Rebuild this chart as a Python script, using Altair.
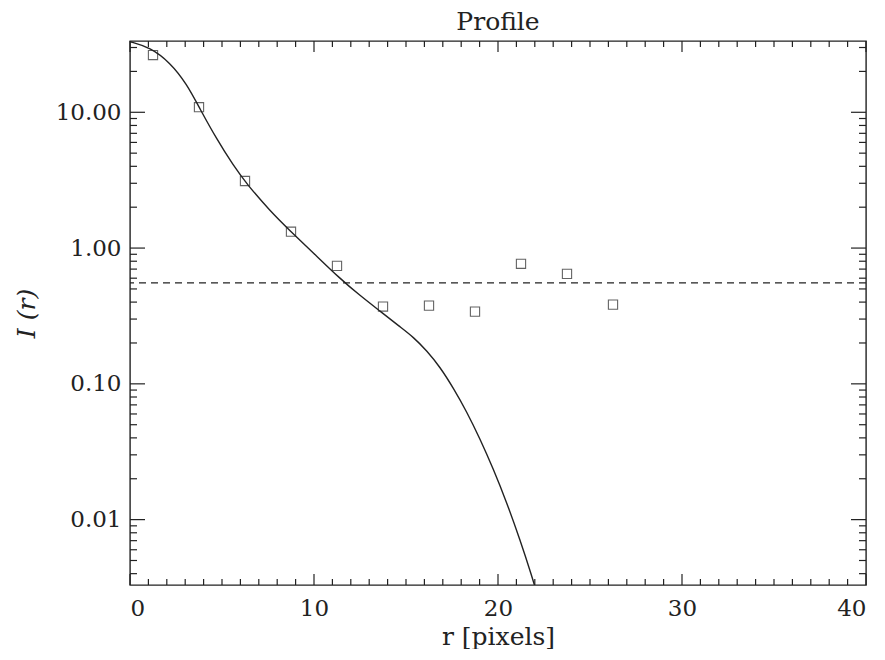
import altair as alt
import pandas as pd

# ---- data ----
obs_r = [1.25, 3.75, 6.25, 8.75, 11.25, 13.75, 16.25, 18.75, 21.25, 23.75, 26.25]
obs_I = [26.4, 10.9, 3.12, 1.32, 0.74, 0.371, 0.377, 0.34, 0.766, 0.646, 0.383]

fit_r = [0.0, 1.09, 2.17, 3.08, 3.80, 4.71, 5.62, 6.34, 7.61, 8.70, 9.96,
         11.41, 12.50, 13.59, 14.67, 15.40, 16.12, 16.85, 17.57, 18.30, 19.02,
         19.74, 20.47, 21.20, 21.85, 22.10]
fit_I = [33.1, 30.1, 23.3, 16.2, 10.6, 6.35, 4.05, 2.97, 1.88, 1.34, 0.923,
         0.596, 0.447, 0.343, 0.263, 0.221, 0.176, 0.133, 0.0933, 0.0624, 0.0394,
         0.0237, 0.01343, 0.00708, 0.0038, 0.0029]

background_level = [0.555]

x_major = [0, 10, 20, 30, 40]
x_minor = [v for v in range(1, 40) if v % 10 != 0]
y_major = [0.01, 0.1, 1.0, 10.0]
y_minor = [k * 10.0 ** e for e in range(-3, 2) for k in range(2, 10)
           if 0.0033 <= k * 10.0 ** e <= 33.5]

title_text = "Profile"
x_title = "r [pixels]"
y_title = "I  (r)"

W, H = 736, 544
FONT = "DejaVu Serif"
INK = "#222222"

xs = alt.Scale(domain=[0, 40], nice=False, zero=False)
ys = alt.Scale(type="log", domain=[0.0033, 33.5], nice=False)

obs_df = pd.DataFrame({"r": obs_r, "I": obs_I})
fit_df = pd.DataFrame({"r": fit_r, "I": fit_I})
bg_df = pd.DataFrame({"I": background_level})

x_axis = alt.Axis(values=x_major, format="d", ticks=False, domain=False, grid=False,
                  labelPadding=12, labelFont=FONT, labelFontSize=23, labelColor=INK,
                  title=x_title, titleFont=FONT, titleFontSize=25, titleFontWeight="normal",
                  titleColor=INK, titlePadding=4)
y_axis = alt.Axis(values=y_major, format=".2f", ticks=False, domain=False, grid=False,
                  labelPadding=9, labelFont=FONT, labelFontSize=23, labelColor=INK,
                  title=y_title, titleFont=FONT, titleFontSize=25, titleFontWeight="normal",
                  titleFontStyle="italic", titleColor=INK, titlePadding=16)

base_fit = alt.Chart(fit_df).mark_line(color=INK, strokeWidth=1.4, interpolate="basis",
                                       clip=True).encode(
    x=alt.X("r:Q", scale=xs, axis=x_axis),
    y=alt.Y("I:Q", scale=ys, axis=y_axis),
)

pts = alt.Chart(obs_df).mark_point(shape="square", size=85, filled=False, color=INK,
                                   strokeWidth=1.1).encode(
    x=alt.X("r:Q", scale=xs),
    y=alt.Y("I:Q", scale=ys),
)

bg = alt.Chart(bg_df).mark_rule(color=INK, strokeWidth=1.2, strokeDash=[7, 5]).encode(
    y=alt.Y("I:Q", scale=ys),
)


def xticks(vals, length):
    df = pd.DataFrame({"r": vals})
    bottom = alt.Chart(df).mark_rule(color=INK, strokeWidth=1.2).encode(
        x=alt.X("r:Q", scale=xs), y=alt.value(H), y2=alt.value(H - length))
    top = alt.Chart(df).mark_rule(color=INK, strokeWidth=1.2).encode(
        x=alt.X("r:Q", scale=xs), y=alt.value(0), y2=alt.value(length))
    return [bottom, top]


def yticks(vals, length):
    df = pd.DataFrame({"I": vals})
    left = alt.Chart(df).mark_rule(color=INK, strokeWidth=1.2).encode(
        y=alt.Y("I:Q", scale=ys), x=alt.value(0), x2=alt.value(length))
    right = alt.Chart(df).mark_rule(color=INK, strokeWidth=1.2).encode(
        y=alt.Y("I:Q", scale=ys), x=alt.value(W), x2=alt.value(W - length))
    return [left, right]


layers = [base_fit, bg, pts] + xticks(x_major, 11) + xticks(x_minor, 6) \
    + yticks(y_major, 15) + yticks(y_minor, 7)

chart = alt.layer(*layers).properties(
    width=W, height=H,
    padding={"left": 6, "top": 2, "right": 0, "bottom": 0},
    title=alt.TitleParams(title_text, font=FONT, fontSize=25, fontWeight="normal",
                          color=INK, offset=5),
).configure_view(stroke=INK, strokeWidth=1.4)

chart.save("out.html", embed_options={"renderer": "svg", "actions": False})
